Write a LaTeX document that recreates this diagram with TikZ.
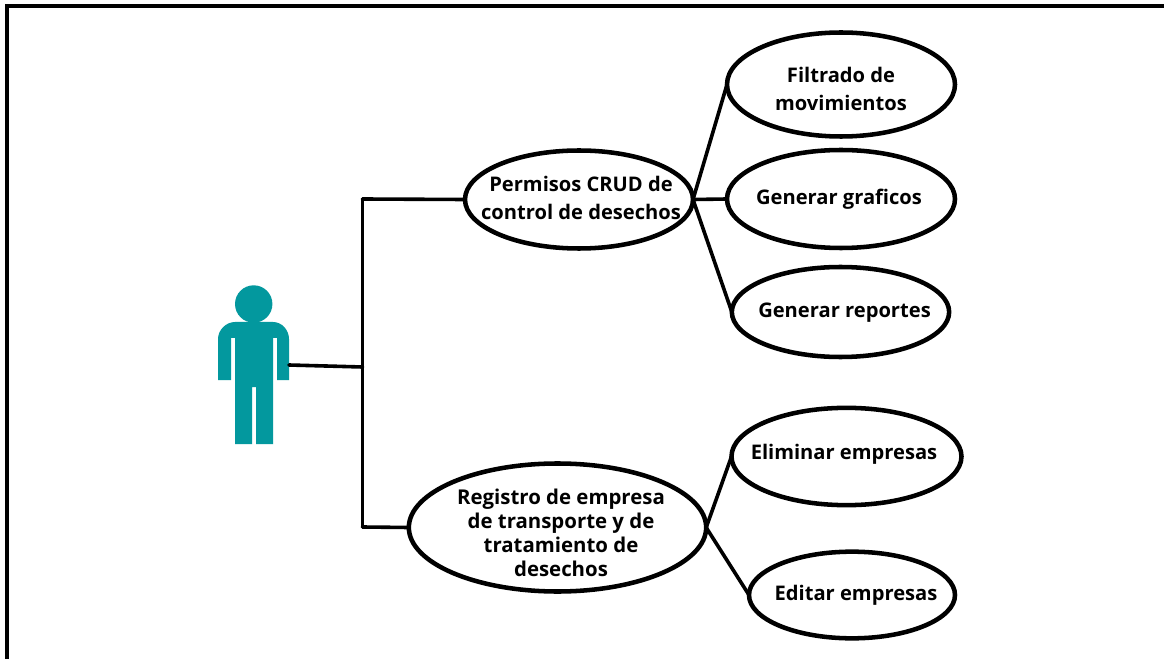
\documentclass[tikz,border=0pt]{standalone}
\usepackage{fontspec}
\setmainfont{Open Sans}
\usetikzlibrary{shapes.geometric}
\definecolor{teal1}{HTML}{03989E}
\tikzset{
  x=0.75pt,y=-0.75pt,
  usecase/.style={ellipse,draw=black,line width=3.4pt,fill=white,inner sep=0pt,outer sep=0pt},
  casetext/.style={align=center,inner sep=0pt,font=\fontsize{15.1}{21.5}\selectfont\bfseries},
  tighttext/.style={align=center,inner sep=0pt,font=\fontsize{15.3}{18}\selectfont\bfseries},
  link/.style={draw=black,line width=2.7pt,line cap=round,line join=round},
  person/.style={fill=teal1,draw=none}
}
\begin{document}
\begin{tikzpicture}
\useasboundingbox (0,0) rectangle (1164,659);
\fill[white] (0,0) rectangle (1164,659);
\draw[black,line width=3pt] (7,659) -- (7,6) -- (1164,6);
% actor
\fill[person] (253.7,304) circle (18.7);
\fill[person] (235,322) -- (273,322) .. controls (282,322) and (289,330) .. (289,339) -- (289,380) -- (277,380) -- (277,338) -- (273,338) -- (273,444) -- (256,444) -- (256,387) -- (252,387) -- (252,444) -- (235,444) -- (235,338) -- (231,338) -- (231,380) -- (218,380) -- (218,339) .. controls (218,330) and (226,322) .. (235,322) -- cycle;
\coordinate (actor) at (289,365);
\coordinate (junction) at (362.5,367);
\coordinate (top) at (362.5,199);
\coordinate (bottom) at (362.5,527);
% nodes
\node[usecase,minimum width=171pt,minimum height=78pt] (filt) at (841,84.5) {};
\node[casetext] (filtt) at (841,89) {Filtrado de\\movimientos};
\node[usecase,minimum width=171pt,minimum height=73.5pt] (perm) at (579,199.5) {};
\node[casetext] (permt) at (581,198) {Permisos CRUD de\\control de desechos};
\node[usecase,minimum width=171pt,minimum height=73.5pt] (graf) at (841,199) {};
\node[casetext] (graft) at (839,199) {Generar graficos};
\node[usecase,minimum width=163pt,minimum height=67.5pt] (repo) at (840.5,312) {};
\node[casetext] (repot) at (844.5,313) {Generar reportes};
\node[usecase,minimum width=172.5pt,minimum height=73pt] (elim) at (846.5,456.5) {};
\node[casetext] (elimt) at (844,454) {Eliminar empresas};
\node[usecase,minimum width=154.5pt,minimum height=65pt] (edit) at (852,595) {};
\node[casetext] (editt) at (856,595) {Editar empresas};
\node[usecase,minimum width=223pt,minimum height=96pt] (regi) at (557.5,527.5) {};
\node[tighttext] (regit) at (561,532.5) {Registro de empresa\\de transporte y de\\tratamiento de\\desechos};
% connectors
\draw[link] (actor) -- (junction);
\draw[link] (top) -- (bottom);
\draw[link] (top) -- (perm.west);
\draw[link] (bottom) -- (regi.west);
\draw[link] (perm.east) -- (filt.west);
\draw[link] (perm.east) -- (graf.west);
\draw[link] (perm.east) -- (repo.west);
\draw[link] (regi.east) -- (elim.west);
\draw[link] (regi.east) -- (edit.west);
\end{tikzpicture}
\end{document}
